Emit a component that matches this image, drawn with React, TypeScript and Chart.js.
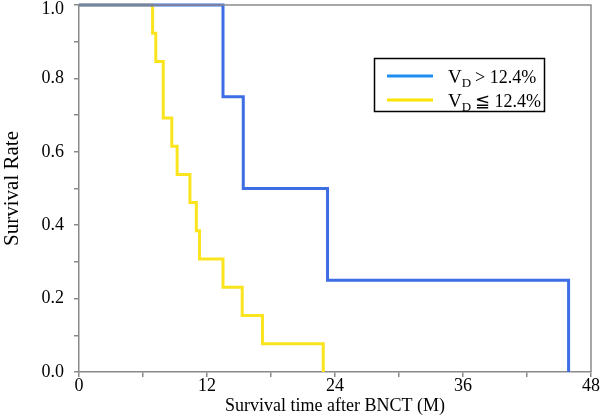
import React, { useEffect, useRef } from "react";
import { Chart, registerables } from "chart.js";

Chart.register(...registerables);

const seriesLabels = ["> 12.4%", "≦ 12.4%"];
const highTimes = [0, 13.5, 15.4, 23.3, 45.9];
const highSurvival = [1.0, 0.75, 0.5, 0.25, 0.0];
const lowTimes = [0, 6.9, 7.2, 7.9, 8.7, 9.2, 10.4, 11.0, 11.3, 13.5, 15.3, 17.2, 22.9];
const lowSurvival = [1.0, 0.923, 0.846, 0.692, 0.615, 0.538, 0.462, 0.385, 0.308, 0.231, 0.154, 0.077, 0.0];
const xTitle = "Survival time after BNCT (M)";
const yTitle = "Survival Rate";

const BLUE = "rgb(62,110,228)";
const YELLOW = "rgb(250,228,30)";
const LEG_BLUE = "rgb(30,140,240)";
const LEG_YELLOW = "rgb(250,228,0)";
const AXIS = "#8a8a8a";
const SERIF = "'Liberation Serif', 'Times New Roman', serif";

const legendPlugin = {
  id: "kmLegend",
  afterDraw(chart: any) {
    const { ctx, chartArea } = chart;
    ctx.save();
    // frame top & right
    ctx.strokeStyle = AXIS;
    ctx.lineWidth = 1.5;
    ctx.beginPath();
    ctx.moveTo(chartArea.left, chartArea.top);
    ctx.lineTo(chartArea.right, chartArea.top);
    ctx.lineTo(chartArea.right, chartArea.bottom);
    ctx.stroke();
    // top y label (kept inside canvas)
    ctx.fillStyle = "#000";
    ctx.font = `18px ${SERIF}`;
    ctx.textAlign = "right";
    ctx.textBaseline = "middle";
    ctx.fillText((1).toFixed(1), chartArea.left - 15, chartArea.top + 4);
    // legend box
    const bx = 374.5, by = 58.5, bw = 170, bh = 53;
    ctx.fillStyle = "#fff";
    ctx.fillRect(bx, by, bw, bh);
    ctx.strokeStyle = "#000";
    ctx.lineWidth = 1.5;
    ctx.strokeRect(bx, by, bw, bh);
    const rows = [
      { color: LEG_BLUE, y: 76, label: seriesLabels[0] },
      { color: LEG_YELLOW, y: 100, label: seriesLabels[1] },
    ];
    rows.forEach((r) => {
      ctx.strokeStyle = r.color;
      ctx.lineWidth = 3;
      ctx.beginPath();
      ctx.moveTo(387, r.y);
      ctx.lineTo(433, r.y);
      ctx.stroke();
      ctx.fillStyle = "#000";
      ctx.textBaseline = "alphabetic";
      ctx.textAlign = "left";
      const base = r.y + 7;
      ctx.font = `19px ${SERIF}`;
      ctx.fillText("V", 448, base);
      let x = 448 + ctx.measureText("V").width;
      ctx.font = `13px ${SERIF}`;
      ctx.fillText("D", x, base + 4);
      x += ctx.measureText("D").width + 4;
      ctx.font = `18px ${SERIF}`;
      ctx.fillText(r.label, x, base);
    });
    ctx.restore();
  },
};

export default function App() {
  const ref = useRef<HTMLCanvasElement>(null);
  useEffect(() => {
    if (!ref.current) return;
    const high = highTimes.map((t, i) => ({ x: t, y: highSurvival[i] }));
    const low = lowTimes.map((t, i) => ({ x: t, y: lowSurvival[i] }));
    const chart = new Chart(ref.current, {
      type: "line",
      data: {
        datasets: [
          {
            label: "VD " + seriesLabels[0],
            data: high,
            borderColor: BLUE,
            borderWidth: 3,
            stepped: "before",
            pointRadius: 0,
            fill: false,
            clip: false as any,
          },
          {
            label: "VD " + seriesLabels[1],
            data: low,
            borderColor: YELLOW,
            borderWidth: 3,
            stepped: "before",
            pointRadius: 0,
            fill: false,
            clip: false as any,
          },
        ],
      },
      options: {
        responsive: false,
        animation: false,
        layout: { padding: { left: 0, top: 5, right: 9, bottom: 0 } },
        plugins: { legend: { display: false }, tooltip: { enabled: false } },
        scales: {
          x: {
            type: "linear",
            min: 0,
            max: 48,
            afterFit: (s: any) => {
              s.height = 45;
              s.paddingLeft = 0;
              s.paddingRight = 0;
            },
            ticks: {
              stepSize: 6,
              autoSkip: false,
              maxRotation: 0,
              padding: -2,
              color: "#000",
              font: { family: SERIF, size: 18 },
              callback: (v: any) => (Number(v) % 12 === 0 ? String(v) : ""),
            },
            grid: { drawOnChartArea: false, drawTicks: true, tickLength: 5, color: AXIS, lineWidth: 1.5 },
            border: { color: AXIS, width: 1.5 },
            title: {
              display: true,
              text: xTitle,
              color: "#000",
              font: { family: SERIF, size: 18 },
              padding: { top: 0, bottom: 0 },
            },
          },
          y: {
            type: "linear",
            min: 0,
            max: 1,
            afterFit: (s: any) => {
              s.width = 79;
              s.paddingTop = 0;
              s.paddingBottom = 0;
            },
            ticks: {
              stepSize: 0.1,
              autoSkip: false,
              padding: 10,
              color: "#000",
              font: { family: SERIF, size: 18 },
              callback: (v: any) => {
                const n = Math.round(Number(v) * 10);
                return n % 2 === 0 && n < 10 ? (n / 10).toFixed(1) : "";
              },
            },
            grid: { drawOnChartArea: false, drawTicks: true, tickLength: 5, color: AXIS, lineWidth: 1.5 },
            border: { color: AXIS, width: 1.5 },
            title: {
              display: true,
              text: yTitle,
              color: "#000",
              font: { family: SERIF, size: 21 },
              padding: { top: 0, bottom: 0 },
            },
          },
        },
      },
      plugins: [legendPlugin],
    });
    return () => chart.destroy();
  }, []);
  return (
    <div style={{ position: "fixed", left: 0, top: 0, width: 600, height: 417, background: "#fff" }}>
      <canvas ref={ref} width={600} height={417} />
    </div>
  );
}
